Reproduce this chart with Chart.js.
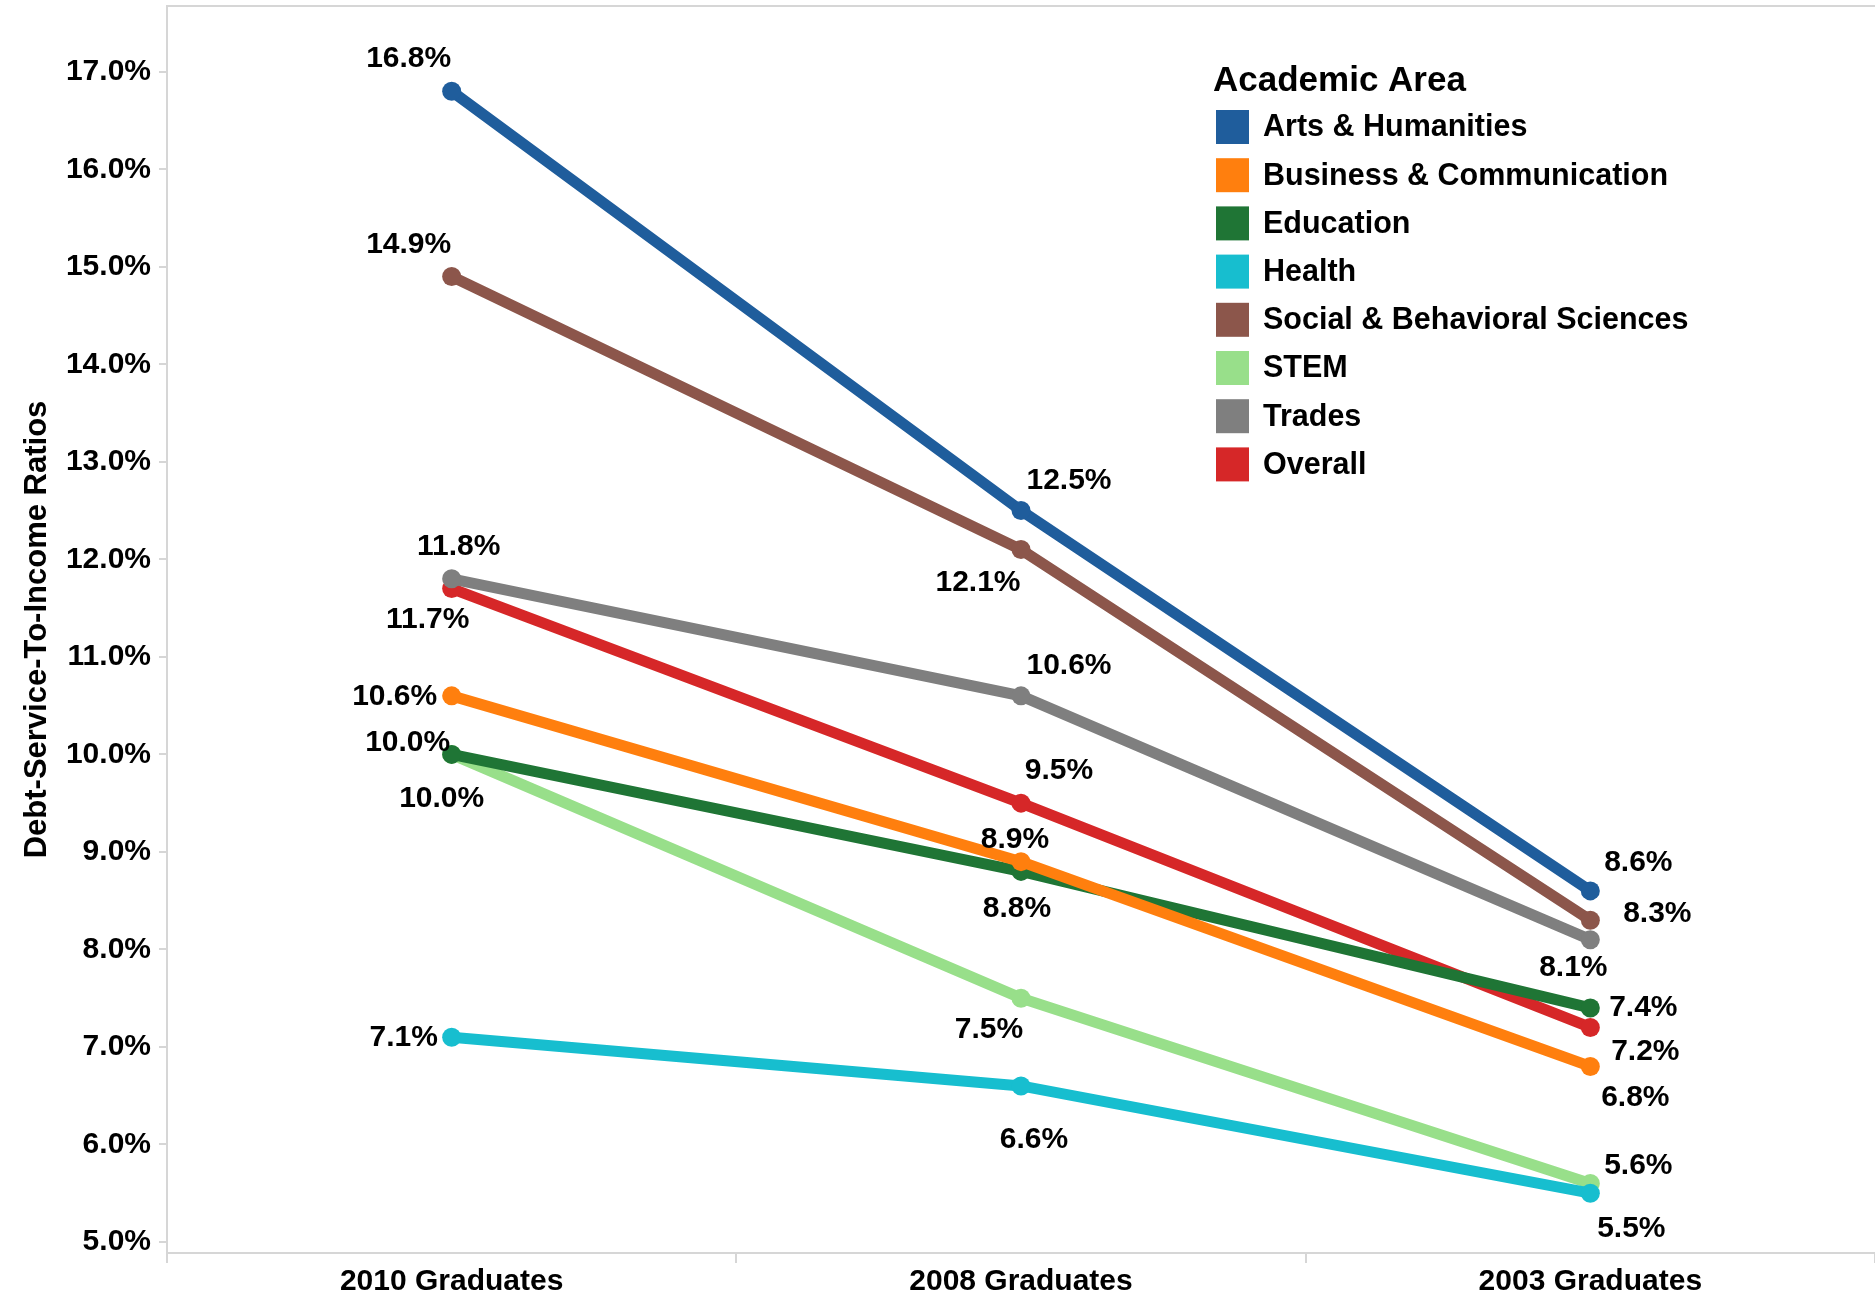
<!DOCTYPE html>
<html>
<head>
<meta charset="utf-8">
<title>Debt-Service-To-Income Ratios by Academic Area</title>
<script src="https://cdn.jsdelivr.net/npm/chart.js@4.4.1/dist/chart.umd.min.js"></script>
<style>
  html, body { margin: 0; padding: 0; background: #fff; }
  #wrap { width: 1875px; height: 1296px; }
</style>
</head>
<body>
<div id="wrap"><canvas id="chart"></canvas></div>
<script>
// cohorts on the x axis
const cohorts = ['2010 Graduates', '2008 Graduates', '2003 Graduates'];

// debt-service-to-income ratio (%) per academic area
const artsHumanities = [16.8, 12.5, 8.6];
const businessComm   = [10.6, 8.9, 6.8];
const education      = [10.0, 8.8, 7.4];
const health         = [7.1, 6.6, 5.5];
const socialBehav    = [14.9, 12.1, 8.3];
const stem           = [10.0, 7.5, 5.6];
const trades         = [11.8, 10.6, 8.1];
const overall        = [11.7, 9.5, 7.2];

const areaNames = ['Arts & Humanities', 'Business & Communication', 'Education', 'Health',
                   'Social & Behavioral Sciences', 'STEM', 'Trades', 'Overall'];
const areaValues = [artsHumanities, businessComm, education, health, socialBehav, stem, trades, overall];
const areaColors = ['#1f5d9c', '#ff7f0e', '#1f7535', '#17becf', '#8c564b', '#98df8a', '#7f7f7f', '#d62728'];

const yTicks = [5, 6, 7, 8, 9, 10, 11, 12, 13, 14, 15, 16, 17];

// where each value label sits relative to its point (px)
const labelOffsets = [
    [[-43, -32], [48, -30], [48, -28]],
    [[-57, 1], [-6, -22], [45, 31]],
    [[-10, 44], [-4, 37], [53, 0]],
    [[-48, 1], [13, 54], [41, 36]],
    [[-43, -32], [-43, 33], [67, -6]],
    [[-44, -12], [-32, 32], [48, -18]],
    [[7, -32], [48, -30], [-17, 28]],
    [[-24, 31], [38, -32], [55, 24]]
];

const FONT = "'Liberation Sans', Arial, Helvetica, sans-serif";
Chart.defaults.font.family = FONT;
Chart.defaults.font.weight = 'bold';
Chart.defaults.font.size = 30;
Chart.defaults.color = '#000';

const AXIS_GREY = '#d6d6d6';

// labels next to every point
const valueLabels = {
    id: 'valueLabels',
    afterDatasetsDraw(chart) {
        const ctx = chart.ctx;
        ctx.save();
        ctx.font = 'bold 30px ' + FONT;
        ctx.fillStyle = '#000';
        ctx.textAlign = 'center';
        ctx.textBaseline = 'middle';
        chart.data.datasets.forEach((ds, di) => {
            const meta = chart.getDatasetMeta(di);
            meta.data.forEach((pt, i) => {
                const off = labelOffsets[di][i];
                ctx.fillText(ds.data[i].toFixed(1) + '%', pt.x + off[0], pt.y + off[1]);
            });
        });
        ctx.restore();
    }
};

// top frame line and the legend box in the upper right
const frameAndLegend = {
    id: 'frameAndLegend',
    afterDraw(chart) {
        const ctx = chart.ctx;
        const area = chart.chartArea;
        ctx.save();
        ctx.strokeStyle = AXIS_GREY;
        ctx.lineWidth = 2;
        ctx.beginPath();
        ctx.moveTo(area.left, area.top);
        ctx.lineTo(chart.width, area.top);
        ctx.stroke();

        const x0 = 1213, titleY = 81, rowY = 127, rowGap = 48.2;
        ctx.fillStyle = '#000';
        ctx.textAlign = 'left';
        ctx.textBaseline = 'middle';
        ctx.font = 'bold 35px ' + FONT;
        ctx.fillText('Academic Area', x0, titleY);
        ctx.font = 'bold 30.5px ' + FONT;
        chart.data.datasets.forEach((ds, i) => {
            const y = rowY + i * rowGap;
            ctx.fillStyle = ds.borderColor;
            ctx.fillRect(x0 + 3, y - 17, 33, 34);
            ctx.fillStyle = '#000';
            ctx.fillText(ds.label, x0 + 50, y + 1);
        });
        ctx.restore();
    }
};

const datasets = areaNames.map((name, i) => ({
    label: name,
    data: areaValues[i],
    borderColor: areaColors[i],
    backgroundColor: areaColors[i],
    pointBackgroundColor: areaColors[i],
    pointBorderWidth: 0,
    pointRadius: 9.5,
    borderWidth: 11,
    tension: 0,
    fill: false
}));

new Chart(document.getElementById('chart'), {
    type: 'line',
    data: { labels: cohorts, datasets: datasets },
    options: {
        responsive: true,
        maintainAspectRatio: false,
        animation: false,
        layout: { autoPadding: false, padding: { top: 6, right: 0, left: 0, bottom: 0 } },
        plugins: {
            legend: { display: false },
            tooltip: { enabled: false }
        },
        scales: {
            x: {
                offset: true,
                grid: {
                    offset: true,
                    drawOnChartArea: false,
                    color: AXIS_GREY,
                    lineWidth: 2,
                    tickLength: 10
                },
                border: { color: AXIS_GREY, width: 2 },
                ticks: { padding: 1, maxRotation: 0, font: { size: 30, weight: 'bold' } },
                afterFit(scale) {
                    scale.height = 43;
                    scale.paddingLeft = 0;
                    scale.paddingRight = 0;
                }
            },
            y: {
                min: 4.887,
                max: 17.674,
                afterBuildTicks(scale) {
                    scale.ticks = yTicks.map(v => ({ value: v }));
                },
                grid: {
                    drawOnChartArea: false,
                    color: AXIS_GREY,
                    lineWidth: 2,
                    tickLength: 8
                },
                border: { color: AXIS_GREY, width: 2 },
                ticks: {
                    padding: 8,
                    font: { size: 30, weight: 'bold' },
                    callback: v => Number(v).toFixed(1) + '%'
                },
                title: {
                    display: true,
                    text: 'Debt-Service-To-Income Ratios',
                    font: { size: 31, weight: 'bold' },
                    padding: { top: 19, bottom: 0 }
                },
                afterFit(scale) {
                    scale.width = 167;
                    scale.paddingTop = 0;
                    scale.paddingBottom = 0;
                }
            }
        }
    },
    plugins: [valueLabels, frameAndLegend]
});
</script>
</body>
</html>
